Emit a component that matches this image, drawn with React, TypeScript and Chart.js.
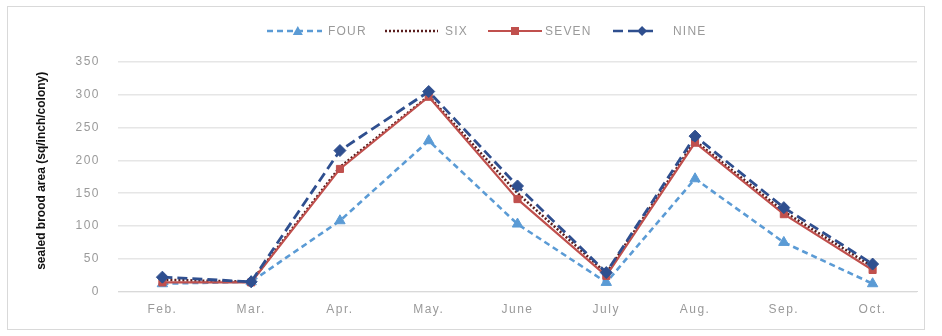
import React, { useEffect, useRef } from "react";
import { Chart, registerables } from "chart.js";

Chart.register(...registerables);

const months = ["Feb.", "Mar.", "Apr.", "May.", "June", "July", "Aug.", "Sep.", "Oct."];
const four = [12, 15, 108, 230, 103, 14, 172, 75, 12];
const six = [18, 15, 190, 298, 150, 28, 230, 122, 38];
const seven = [14, 14, 187, 297, 141, 24, 227, 118, 33];
const nine = [22, 15, 215, 305, 161, 29, 237, 128, 42];
const yTicks = [0, 50, 100, 150, 200, 250, 300, 350];
const yTitle = "sealed brood area (sq/inch/colony)";

const FONT = "'Liberation Sans', Arial, sans-serif";
const TEXT_GRAY = "#9a9a9a";

type Item = {
  label: string;
  color: string;
  dash: number[];
  width: number;
  point: string | false;
  x: number;
  lineLen: number;
  markAt: number;
  textGap: number;
};

// legend entries: line sample, optional marker, label
const legendItems: Item[] = [
  { label: "FOUR", color: "#5b9bd5", dash: [6, 4], width: 2.5, point: "triangle", x: 259, lineLen: 55, markAt: 0.56, textGap: 6 },
  { label: "SIX", color: "#5a1e1e", dash: [2, 2], width: 2.5, point: false, x: 377, lineLen: 53, markAt: 0.5, textGap: 7 },
  { label: "SEVEN", color: "#c0504d", dash: [], width: 2, point: "rect", x: 480, lineLen: 54, markAt: 0.5, textGap: 3 },
  { label: "NINE", color: "#2f4f8f", dash: [10, 5], width: 2.5, point: "rectRot", x: 605, lineLen: 44, markAt: 0.66, textGap: 16 },
];

// wider glyph spacing for all axis text
const spacing = {
  id: "spacing",
  beforeDraw(chart: any) {
    (chart.ctx as any).letterSpacing = "1.5px";
  },
};

const extras = {
  id: "extras",
  afterDraw(chart: any) {
    const ctx = chart.ctx as CanvasRenderingContext2D;
    ctx.save();
    (ctx as any).letterSpacing = "1.2px";
    ctx.font = `12px ${FONT}`;
    const y = 24;
    legendItems.forEach((it) => {
      const x = it.x;
      ctx.strokeStyle = it.color;
      ctx.lineWidth = it.width;
      ctx.setLineDash(it.dash);
      ctx.beginPath();
      ctx.moveTo(x, y);
      ctx.lineTo(x + it.lineLen, y);
      ctx.stroke();
      ctx.setLineDash([]);
      if (it.point) {
        const cx = x + it.lineLen * it.markAt;
        ctx.fillStyle = it.color;
        ctx.beginPath();
        if (it.point === "triangle") {
          ctx.moveTo(cx, y - 5);
          ctx.lineTo(cx + 5, y + 4);
          ctx.lineTo(cx - 5, y + 4);
        } else if (it.point === "rect") {
          ctx.rect(cx - 4, y - 4, 8, 8);
        } else {
          ctx.moveTo(cx, y - 5);
          ctx.lineTo(cx + 5, y);
          ctx.lineTo(cx, y + 5);
          ctx.lineTo(cx - 5, y);
        }
        ctx.closePath();
        ctx.fill();
      }
      ctx.fillStyle = TEXT_GRAY;
      ctx.textBaseline = "middle";
      ctx.textAlign = "left";
      ctx.fillText(it.label, x + it.lineLen + it.textGap, y + 1);
    });

    // rotated y-axis title
    (ctx as any).letterSpacing = "0px";
    const area = chart.chartArea;
    ctx.translate(34, (area.top + area.bottom) / 2 - 6);
    ctx.rotate(-Math.PI / 2);
    ctx.font = `bold 12px ${FONT}`;
    ctx.fillStyle = "#111111";
    ctx.textAlign = "center";
    ctx.textBaseline = "middle";
    ctx.fillText(yTitle, 0, 0);
    ctx.restore();
  },
};

export default function App() {
  const ref = useRef<HTMLCanvasElement>(null);

  useEffect(() => {
    if (!ref.current) return;
    const mk = (label: string, data: number[], color: string, dash: number[], width: number, point: any, radius: number) => ({
      label,
      data,
      borderColor: color,
      backgroundColor: color,
      borderDash: dash,
      borderWidth: width,
      pointStyle: point,
      pointRadius: radius,
      pointBorderWidth: 1,
      pointBorderColor: color,
      pointBackgroundColor: color,
      tension: 0,
      fill: false,
    });
    const chart = new Chart(ref.current, {
      type: "line",
      data: {
        labels: months,
        datasets: [
          mk("NINE", nine, "#2f4f8f", [10, 5], 2.8, "rectRot", 6),
          mk("SEVEN", seven, "#c0504d", [], 2.2, "rect", 5),
          mk("SIX", six, "#5a1e1e", [2, 2], 2.6, false, 0),
          mk("FOUR", four, "#5b9bd5", [6, 4], 2.6, "triangle", 6),
        ],
      },
      options: {
        animation: false,
        responsive: false,
        layout: { padding: { left: 24, right: 3, top: 55, bottom: 1 } },
        plugins: {
          legend: { display: false },
          tooltip: { enabled: false },
        },
        scales: {
          x: {
            offset: true,
            grid: { display: false, drawTicks: false },
            border: { color: "#d9d9d9" },
            ticks: { color: TEXT_GRAY, font: { family: FONT, size: 12 }, padding: 11, maxRotation: 0 },
          },
          y: {
            min: 0,
            max: 350,
            afterBuildTicks: (s: any) => {
              s.ticks = yTicks.map((v) => ({ value: v }));
            },
            afterFit: (s: any) => {
              s.width = 86;
            },
            grid: { color: "#e6e6e6", lineWidth: 1.5, drawTicks: false },
            border: { display: false },
            ticks: { color: TEXT_GRAY, font: { family: FONT, size: 12 }, padding: 18 },
          },
        },
      },
      plugins: [spacing, extras],
    });
    return () => chart.destroy();
  }, []);

  return (
    <div
      style={{
        position: "absolute",
        left: 7,
        top: 6,
        width: 918,
        height: 324,
        border: "1px solid #d9d9d9",
        background: "#fff",
        boxSizing: "border-box",
      }}
    >
      <canvas ref={ref} width={916} height={322} style={{ display: "block" }} />
    </div>
  );
}
